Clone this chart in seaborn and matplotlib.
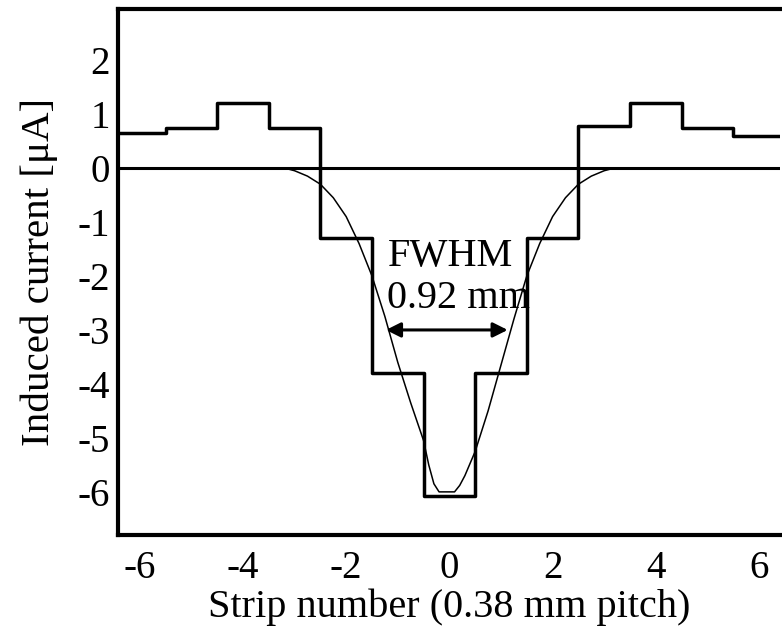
import numpy as np
import pandas as pd
import matplotlib
matplotlib.use("Agg")
import matplotlib.pyplot as plt
import seaborn as sns

# ---- data ----
strips = [-6, -5, -4, -3, -2, -1, 0, 1, 2, 3, 4, 5, 6]
currents = [0.65, 0.75, 1.2, 0.75, -1.3, -3.8, -6.07, -3.8, -1.3, 0.78, 1.2, 0.75, 0.6]

fit_x = [-3.2, -3.0, -2.75, -2.5, -2.25, -2.0, -1.75, -1.5, -1.25, -1.0, -0.75, -0.5, -0.4, -0.3,
         -0.2, 0.0, 0.1, 0.2, 0.3, 0.5, 0.75, 1.0, 1.25, 1.5, 1.75, 2.0, 2.25, 2.5, 2.75, 3.0, 3.2]
fit_y = [0.0, -0.05, -0.15, -0.3, -0.55, -0.9, -1.4, -2.0, -2.75, -3.6, -4.35, -5.05, -5.5, -5.85,
         -6.0, -6.0, -6.0, -5.88, -5.7, -5.25, -4.5, -3.65, -2.8, -2.0, -1.4, -0.9, -0.55, -0.3,
         -0.15, -0.05, 0.0]

xticks = [-6, -4, -2, 0, 2, 4, 6]
yticks = [-6, -5, -4, -3, -2, -1, 0, 1, 2]
fwhm_text = "FWHM\n0.92 mm"
fwhm_left, fwhm_right, fwhm_level = -1.23, 1.13, -3.0

sns.set_theme(style="white")
plt.rcParams['font.family'] = ['Liberation Serif', 'DejaVu Serif']

fig = plt.figure(figsize=(7.82, 6.28), dpi=100)
ax = fig.add_axes([0.151, 0.148, 0.846, 0.838])

# step histogram: edges derived from strip centers
edges = [s - 0.5 for s in strips] + [strips[-1] + 0.5]
step_vals = currents + [currents[-1]]
step_df = pd.DataFrame({"x": edges, "y": step_vals})
sns.lineplot(data=step_df, x="x", y="y", drawstyle="steps-post", estimator=None,
             color="black", lw=2.5, ax=ax)

fit_df = pd.DataFrame({"x": fit_x, "y": fit_y})
sns.lineplot(data=fit_df, x="x", y="y", estimator=None, color="black", lw=1.1, ax=ax)

ax.axhline(0, color="black", lw=2.2)

ax.annotate("", xy=(fwhm_left, fwhm_level), xytext=(fwhm_right, fwhm_level),
            arrowprops=dict(arrowstyle="<|-|>", color="black", lw=2.2,
                            mutation_scale=22, shrinkA=0, shrinkB=0))
ax.text(-1.2, -2.03, fwhm_text, ha="left", va="center", fontsize=29,
        linespacing=1.2, multialignment="left", color="black")

ax.set_xlim(-6.42, 6.4)
ax.set_ylim(-6.8, 2.95)
ax.set_xticks(xticks)
ax.set_xticklabels([str(t) for t in xticks])
ax.set_yticks(yticks)
ax.set_yticklabels([str(t) for t in yticks])
ax.tick_params(axis="both", direction="in", width=2.5, labelsize=28,
               colors="black", pad=6)
ax.tick_params(axis="x", length=17, pad=11)
ax.tick_params(axis="y", length=14)

for side in ["left", "bottom", "top"]:
    ax.spines[side].set_linewidth(3)
    ax.spines[side].set_color("black")
ax.spines["right"].set_visible(False)

ax.set_xlabel("Strip number (0.38 mm pitch)", fontsize=29, color="black", labelpad=1)
ax.set_ylabel("Induced current [μA]", fontsize=29.5, color="black", labelpad=14)

fig.savefig("out.png", dpi=100)
